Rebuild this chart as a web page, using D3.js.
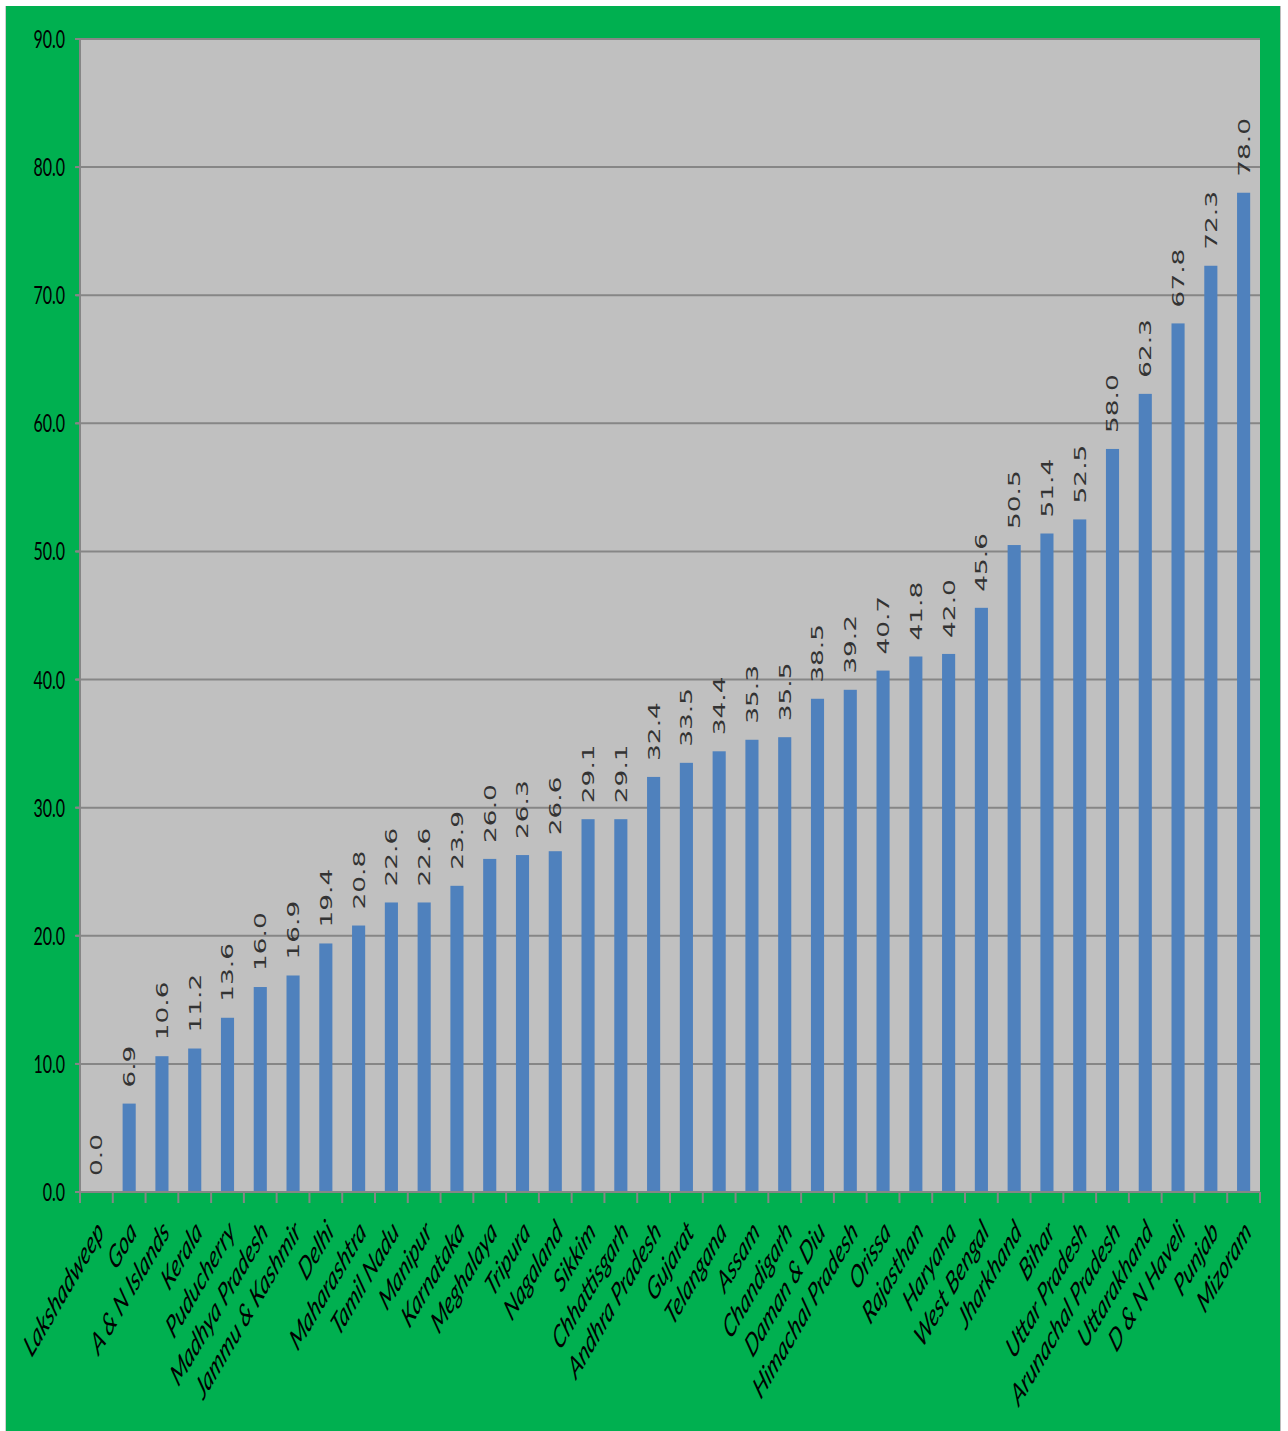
<!DOCTYPE html>
<html><head><meta charset="utf-8">
<script src="https://cdn.jsdelivr.net/npm/d3@7"></script>
<style>body{margin:0;background:#fff}svg{display:block}</style>
</head><body>
<script>
const categories = ["Lakshadweep","Goa","A & N Islands","Kerala","Puducherry","Madhya Pradesh","Jammu & Kashmir","Delhi","Maharashtra","Tamil Nadu","Manipur","Karnataka","Meghalaya","Tripura","Nagaland","Sikkim","Chhattisgarh","Andhra Pradesh","Gujarat","Telangana","Assam","Chandigarh","Daman & Diu","Himachal Pradesh","Orissa","Rajasthan","Haryana","West Bengal","Jharkhand","Bihar","Uttar Pradesh","Arunachal Pradesh","Uttarakhand","D & N Haveli","Punjab","Mizoram"];
const values = [0.0,6.9,10.6,11.2,13.6,16.0,16.9,19.4,20.8,22.6,22.6,23.9,26.0,26.3,26.6,29.1,29.1,32.4,33.5,34.4,35.3,35.5,38.5,39.2,40.7,41.8,42.0,45.6,50.5,51.4,52.5,58.0,62.3,67.8,72.3,78.0];
const yTicks = [0,10,20,30,40,50,60,70,80,90];

const W = 1288, H = 1431;
const SY = 1.6; // vertical stretch of text
const SX = 1.7; // stretch for category labels
const svg = d3.select("body").append("svg").attr("width", W).attr("height", H);
svg.append("rect").attr("x",0).attr("y",0).attr("width",W).attr("height",H).attr("fill","#fff");
svg.append("rect").attr("x",5).attr("y",6).attr("width",1276).attr("height",H-6).attr("fill","#00b050");
svg.append("line").attr("x1",5.5).attr("x2",5.5).attr("y1",6).attr("y2",H).attr("stroke","#d0d0d0");
svg.append("line").attr("x1",1280.5).attr("x2",1280.5).attr("y1",6).attr("y2",H).attr("stroke","#bdbdbd");

const L = 80, R = 1260, T = 39, B = 1192;
const x = d3.scaleBand().domain(categories).range([L, R]).paddingInner(0.6).paddingOuter(0.3);
const y = d3.scaleLinear().domain([0, 90]).range([B, T]);

svg.append("rect").attr("x",L).attr("y",T).attr("width",R-L).attr("height",B-T).attr("fill","#c0c0c0");

// gridlines
svg.append("g").selectAll("line").data(yTicks.filter(d=>d>0)).join("line")
  .attr("x1",L-4).attr("x2",R).attr("y1",d=>y(d)).attr("y2",d=>y(d))
  .attr("stroke","#868686").attr("stroke-width",2);

// bars
svg.append("g").selectAll("rect").data(values).join("rect")
  .attr("x",(d,i)=>x(categories[i])).attr("width",x.bandwidth())
  .attr("y",d=>y(d)).attr("height",d=>B-y(d)).attr("fill","#4f81bd");

// axes lines
svg.append("line").attr("x1",L).attr("x2",L).attr("y1",T-1).attr("y2",B).attr("stroke","#868686").attr("stroke-width",2);
svg.append("line").attr("x1",L-4).attr("x2",R).attr("y1",B).attr("y2",B).attr("stroke","#868686").attr("stroke-width",2);
// y ticks
svg.append("g").selectAll("line").data(yTicks).join("line")
  .attr("x1",L-5).attr("x2",L).attr("y1",d=>y(d)).attr("y2",d=>y(d)).attr("stroke","#868686").attr("stroke-width",2);
// x ticks at band boundaries
const bounds = categories.map((c,i)=> L + i*x.step()).concat([R]);
svg.append("g").selectAll("line").data(bounds).join("line")
  .attr("x1",d=>d).attr("x2",d=>d).attr("y1",B).attr("y2",B+11).attr("stroke","#868686").attr("stroke-width",2);

// y tick labels
svg.append("g").selectAll("text").data(yTicks).join("text")
  .attr("transform",d=>`translate(${L-15},${y(d)}) scale(1,${SY})`)
  .attr("text-anchor","end").attr("dy","0.35em")
  .attr("font-family","Lato, 'Open Sans', sans-serif").attr("font-size",16).attr("fill","#000")
  .text(d=>d.toFixed(1));

// data labels
svg.append("g").selectAll("text").data(values).join("text")
  .attr("transform",(d,i)=>`translate(${x(categories[i])+x.bandwidth()/2},${y(d)-16}) scale(1,${SY}) rotate(-90)`)
  .attr("text-anchor","start").attr("dy","0.36em")
  .attr("font-family","'DejaVu Sans', Verdana, sans-serif").attr("font-size",16.5).attr("fill","#333")
  .text(d=>d.toFixed(1));

// x labels
svg.append("g").selectAll("text").data(categories).join("text")
  .attr("transform",(d)=>`translate(${x(d)+x.bandwidth()/2+4},${B+34}) scale(1,${SX}) rotate(-45)`)
  .attr("text-anchor","end").attr("dy","0.35em")
  .attr("font-family","Lato, sans-serif").attr("font-style","italic").attr("font-size",18.5).attr("fill","#000")
  .text(d=>d);
</script>
</body></html>
